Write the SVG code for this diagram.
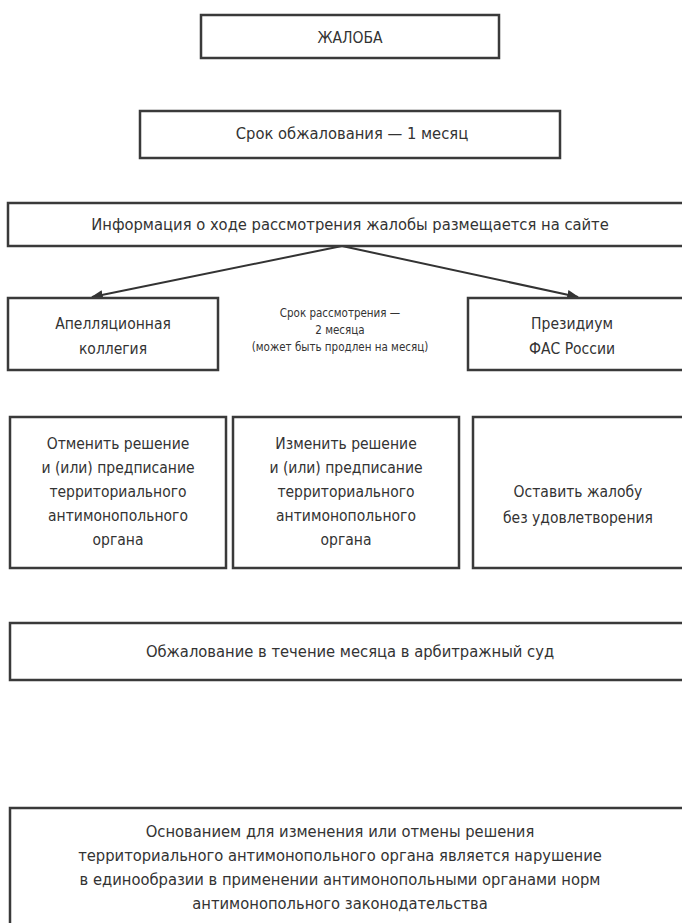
<svg xmlns="http://www.w3.org/2000/svg" width="682" height="923" viewBox="0 0 682 923">
<style>
.box{fill:#fff;stroke:#3a3a3a;stroke-width:2.5}
text{font-family:"DejaVu Sans Condensed","DejaVu Sans",sans-serif;font-stretch:condensed;fill:#333;text-anchor:middle;font-size:16.4px}
.m{font-size:15.5px}
.s{font-size:11.5px}
.edge{stroke:#333;stroke-width:2;fill:none;marker-end:url(#ah)}
</style>
<defs>
<marker id="ah" viewBox="0 0 10 10" refX="9" refY="5" markerWidth="6" markerHeight="6" markerUnits="strokeWidth" orient="auto">
<path d="M0,1 L10,5 L0,9 z" fill="#333"/>
</marker>
</defs>
<rect width="682" height="923" fill="#fff"/>
<g id="connectors">
<path class="edge" d="M342,246 L92,297"/>
<path class="edge" d="M342,246 L578,297"/>
</g>
<g id="n-zhaloba"><rect class="box" x="201" y="15" width="298" height="43"/><text class="m" x="350" y="43">ЖАЛОБА</text></g>
<g id="n-srok"><rect class="box" x="140" y="111" width="420" height="47"/><text x="352" y="139">Срок обжалования — 1 месяц</text></g>
<g id="n-info"><rect class="box" x="8" y="203" width="690" height="43"/><text x="350" y="230">Информация о ходе рассмотрения жалобы размещается на сайте</text></g>
<g id="n-apell"><rect class="box" x="8" y="298" width="210" height="72"/><text class="m" x="113" y="329">Апелляционная</text><text class="m" x="113" y="354">коллегия</text></g>
<g id="n-term"><text class="s" x="340" y="317">Срок рассмотрения —</text><text class="s" x="340" y="334">2 месяца</text><text class="s" x="340" y="351">(может быть продлен на месяц)</text></g>
<g id="n-prez"><rect class="box" x="468" y="298" width="230" height="72"/><text class="m" x="572" y="329">Президиум</text><text class="m" x="572" y="354">ФАС России</text></g>
<g id="n-otmenit"><rect class="box" x="10" y="417" width="216" height="151"/><text class="m" x="118" y="449">Отменить решение</text><text class="m" x="118" y="473">и (или) предписание</text><text class="m" x="118" y="497">территориального</text><text class="m" x="118" y="521">антимонопольного</text><text class="m" x="118" y="545">органа</text></g>
<g id="n-izmenit"><rect class="box" x="233" y="417" width="226" height="151"/><text class="m" x="346" y="449">Изменить решение</text><text class="m" x="346" y="473">и (или) предписание</text><text class="m" x="346" y="497">территориального</text><text class="m" x="346" y="521">антимонопольного</text><text class="m" x="346" y="545">органа</text></g>
<g id="n-ostavit"><rect class="box" x="473" y="417" width="230" height="151"/><text class="m" x="578" y="497">Оставить жалобу</text><text class="m" x="578" y="523">без удовлетворения</text></g>
<g id="n-sud"><rect class="box" x="10" y="623" width="690" height="57"/><text x="350" y="657">Обжалование в течение месяца в арбитражный суд</text></g>
<g id="n-osnov"><rect class="box" x="10" y="808" width="690" height="140"/><text x="340" y="837">Основанием для изменения или отмены решения</text><text x="340" y="861">территориального антимонопольного органа является нарушение</text><text x="340" y="885">в единообразии в применении антимонопольными органами норм</text><text x="340" y="909">антимонопольного законодательства</text></g>
</svg>
